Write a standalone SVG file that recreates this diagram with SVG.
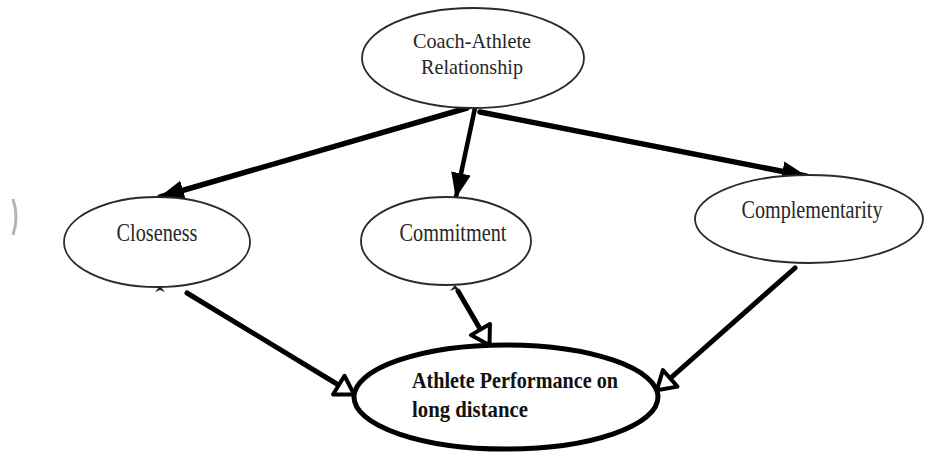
<svg xmlns="http://www.w3.org/2000/svg" width="926" height="453" viewBox="0 0 926 453">
  <defs>
    <style>
      .node-thin { fill: #ffffff; stroke: #2a2a2a; stroke-width: 1.8; }
      .node-bold { fill: #ffffff; stroke: #000000; stroke-width: 5; }
      .lbl { font-family: "Liberation Serif", "Times New Roman", serif; font-size: 25px; fill: #262626; text-anchor: middle; }
      .lbl-top { font-size: 22px; }
      .lbl-out { font-family: "Liberation Serif", "Times New Roman", serif; font-size: 23px; font-weight: bold; fill: #111111; }
      .edge { stroke: #000000; fill: none; stroke-linecap: round; }
      .tick { fill: #222222; }
    </style>
    <!-- solid head for the influence arrows -->
    <marker id="head-solid" markerUnits="userSpaceOnUse" viewBox="0 -11 25 22" refX="24" refY="0" markerWidth="25" markerHeight="22" orient="auto">
      <path d="M0,-10 L25,0 L0,10 Z" fill="#000000"/>
    </marker>
    <!-- open head for the outcome arrows -->
    <marker id="head-open" markerUnits="userSpaceOnUse" viewBox="-4 -15 28 30" refX="19" refY="0" markerWidth="28" markerHeight="30" orient="auto">
      <path d="M0,-11 L18,0 L0,11 Z" fill="#ffffff" stroke="#000000" stroke-width="4" stroke-linejoin="round"/>
    </marker>
  </defs>

  <rect x="0" y="0" width="926" height="453" fill="#ffffff"/>

  <!-- stray arc at the left margin -->
  <path d="M13,199 Q19,217 13,235" fill="none" stroke="#b4b4b4" stroke-width="3"/>

  <g id="connectors">
    <line class="edge" x1="467" y1="108" x2="160" y2="197" stroke-width="5.5" marker-end="url(#head-solid)"/>
    <line class="edge" x1="475" y1="108" x2="456" y2="197" stroke-width="4.5" marker-end="url(#head-solid)"/>
    <line class="edge" x1="480" y1="112" x2="806" y2="176" stroke-width="5.5" marker-end="url(#head-solid)"/>
    <line class="edge" x1="187" y1="293" x2="355" y2="395" stroke-width="5" marker-end="url(#head-open)"/>
    <line class="edge" x1="458" y1="291" x2="490" y2="346" stroke-width="5" marker-end="url(#head-open)"/>
    <line class="edge" x1="795" y1="268" x2="656" y2="391" stroke-width="5" marker-end="url(#head-open)"/>
  </g>

  <g id="coach-athlete">
    <ellipse class="node-thin" cx="473" cy="58" rx="111" ry="50"/>
    <text class="lbl lbl-top" x="472" y="48" textLength="118" lengthAdjust="spacingAndGlyphs">Coach-Athlete</text>
    <text class="lbl lbl-top" x="472" y="74" textLength="102" lengthAdjust="spacingAndGlyphs">Relationship</text>
  </g>

  <g id="closeness">
    <ellipse class="node-thin" cx="157" cy="242" rx="93" ry="45"/>
    <text class="lbl" x="157" y="241" textLength="81" lengthAdjust="spacingAndGlyphs">Closeness</text>
    <path class="tick" d="M155,292 L160,286 L165,292 L160,290 Z"/>
  </g>

  <g id="commitment">
    <ellipse class="node-thin" cx="446" cy="241" rx="85" ry="44"/>
    <text class="lbl" x="453" y="241" textLength="107" lengthAdjust="spacingAndGlyphs">Commitment</text>
    <path class="tick" d="M450,291 L455,285 L460,291 L455,289 Z"/>
  </g>

  <g id="complementarity">
    <ellipse class="node-thin" cx="809" cy="219" rx="114" ry="44"/>
    <text class="lbl" x="812" y="218" textLength="141" lengthAdjust="spacingAndGlyphs">Complementarity</text>
  </g>

  <g id="athlete-performance">
    <ellipse class="node-bold" cx="506" cy="397" rx="152" ry="52"/>
    <text class="lbl-out" x="412" y="388" textLength="206" lengthAdjust="spacingAndGlyphs">Athlete Performance on</text>
    <text class="lbl-out" x="412" y="417" textLength="116" lengthAdjust="spacingAndGlyphs">long distance</text>
  </g>
</svg>
